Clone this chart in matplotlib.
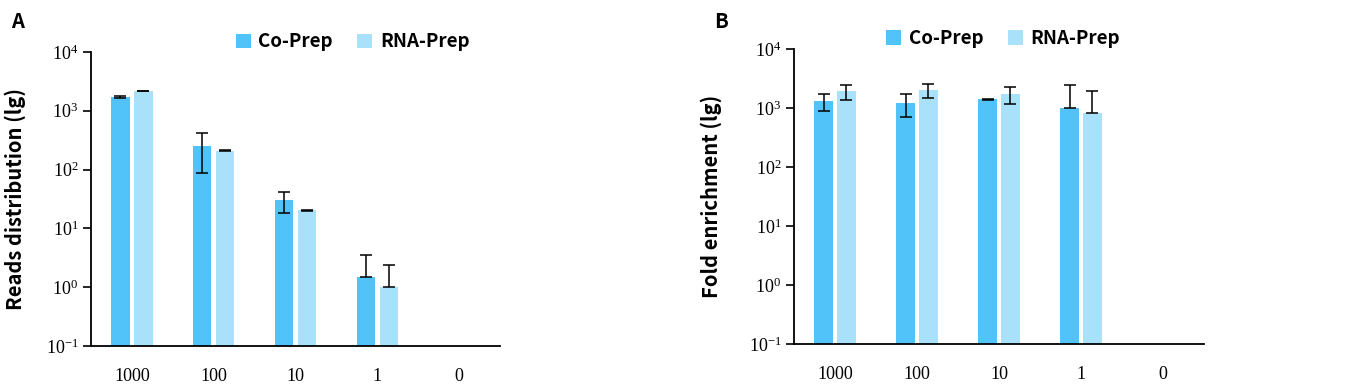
import matplotlib
matplotlib.use("Agg")
import matplotlib.pyplot as plt
import numpy as np

plt.rcParams["axes.unicode_minus"] = False

categories = ["1000", "100", "10", "1", "0"]

# panel A: reads distribution
reads_co = [1730, 248, 30.6, 1.48, np.nan]
reads_co_lo = [80, 160, 12, 0, np.nan]
reads_co_hi = [50, 170, 10.5, 2.1, np.nan]
reads_rna = [2180, 210, 20.2, 1.0, np.nan]
reads_rna_lo = [20, 3, 0.3, 0, np.nan]
reads_rna_hi = [20, 3, 0.3, 1.36, np.nan]

# panel B: fold enrichment
fold_co = [1295, 1230, 1400, 1000, np.nan]
fold_co_lo = [405, 527, 10, 0, np.nan]
fold_co_hi = [432, 497, 10, 1455, np.nan]
fold_rna = [1965, 2043, 1727, 823, np.nan]
fold_rna_lo = [582, 566, 557, 0, np.nan]
fold_rna_hi = [490, 507, 543, 1117, np.nan]

co_color = "#52C3F8"
rna_color = "#A9E1FB"
sans = ["Noto Sans CJK SC", "DejaVu Sans"]
W, H = 1345, 387


def draw_panel(ax, co, co_err, rna, rna_err, ylabel, label_x, leg_x):
    x = np.arange(len(categories))
    w = 0.225
    ax.bar(x - 0.14, co, w, color=co_color, label="Co-Prep", zorder=2)
    ax.bar(x + 0.14, rna, w, color=rna_color, label="RNA-Prep", zorder=2)
    ax.errorbar(x - 0.14, co, yerr=co_err, fmt="none", ecolor="black",
                elinewidth=1.1, capsize=4.6, capthick=1.1, zorder=3)
    ax.errorbar(x + 0.14, rna, yerr=rna_err, fmt="none", ecolor="black",
                elinewidth=1.1, capsize=4.6, capthick=1.1, zorder=3)
    ax.set_yscale("log")
    ax.set_ylim(0.1, 1e4)
    ax.set_xlim(-0.5, 4.5)
    ax.set_yticks([0.1, 1, 10, 100, 1000, 10000])
    ax.minorticks_off()
    ax.set_xticks(x)
    ax.set_xticklabels(categories)
    ax.tick_params(axis="x", length=0, pad=16)
    ax.tick_params(axis="y", length=6, width=1.2, direction="out", pad=3)
    for t in ax.get_xticklabels() + ax.get_yticklabels():
        t.set_fontfamily("Liberation Serif")
        t.set_fontsize(13)
    ax.spines["top"].set_visible(False)
    ax.spines["right"].set_visible(False)
    ax.spines["left"].set_linewidth(1.3)
    ax.spines["bottom"].set_linewidth(1.3)
    ax.set_ylabel(ylabel, fontsize=14.5, fontweight="bold", family=sans)
    ax.yaxis.set_label_coords(label_x, 0.5)
    ax.legend(loc="center", bbox_to_anchor=(leg_x, 1.035), ncol=2, frameon=False,
              handlelength=0.8, handleheight=0.8, handletextpad=0.4,
              columnspacing=1.3, prop={"family": sans, "weight": "bold", "size": 13.5})


fig = plt.figure(figsize=(W / 100, H / 100), dpi=100)
ax1 = fig.add_axes([91 / W, 1 - 346 / H, 409 / W, 294 / H])
ax2 = fig.add_axes([794 / W, 1 - 344 / H, 410 / W, 295 / H])

draw_panel(ax1, reads_co, [reads_co_lo, reads_co_hi], reads_rna,
           [reads_rna_lo, reads_rna_hi], "Reads distribution (lg)", -0.16, 0.64)
draw_panel(ax2, fold_co, [fold_co_lo, fold_co_hi], fold_rna,
           [fold_rna_lo, fold_rna_hi], "Fold enrichment (lg)", -0.175, 0.51)

fig.text(18 / W, 1 - 22 / H, "A", fontsize=14.5, fontweight="bold", family=sans,
         ha="center", va="center")
fig.text(721 / W, 1 - 22 / H, "B", fontsize=14.5, fontweight="bold", family=sans,
         ha="center", va="center")

fig.savefig("out.png", dpi=100)
